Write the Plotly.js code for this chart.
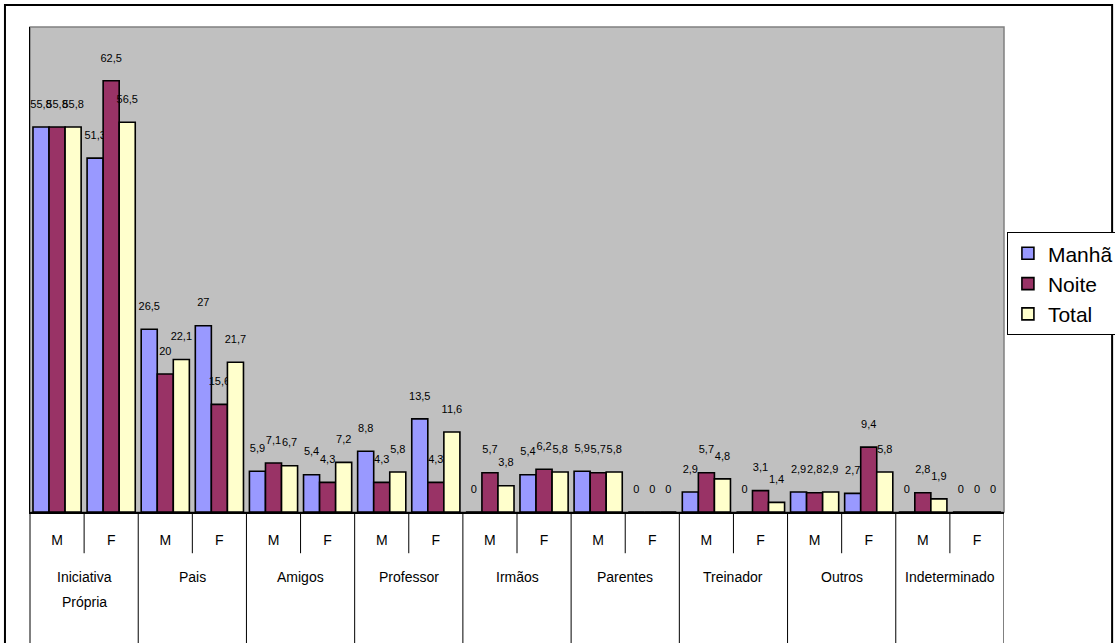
<!DOCTYPE html>
<html>
<head>
<meta charset="utf-8">
<script src="https://cdn.plot.ly/plotly-3.0.1.min.js"></script>
<style>
  html, body { margin: 0; padding: 0; background: #fff; }
  #chart { width: 1115px; height: 643px; }
</style>
</head>
<body>
<div id="chart"></div>
<script>
// Origem da prática: grupos e sexo
const groups = ["Iniciativa Própria", "Pais", "Amigos", "Professor", "Irmãos",
                "Parentes", "Treinador", "Outros", "Indeterminado"];
const sexes = ["M", "F"];

// Percentagens por turno (M e F alternados dentro de cada grupo)
const manha = [55.8, 51.3, 26.5, 27, 5.9, 5.4, 8.8, 13.5, 0, 5.4, 5.9, 0, 2.9, 0, 2.9, 2.7, 0, 0];
const noite = [55.8, 62.5, 20, 15.6, 7.1, 4.3, 4.3, 4.3, 5.7, 6.2, 5.7, 0, 5.7, 3.1, 2.8, 9.4, 2.8, 0];
const total = [55.8, 56.5, 22.1, 21.7, 6.7, 7.2, 5.8, 11.6, 3.8, 5.8, 5.8, 0, 4.8, 1.4, 2.9, 5.8, 1.9, 0];

const seriesNames = ["Manhã", "Noite", "Total"];
const seriesColors = ["#9999FF", "#993366", "#FFFFCC"];

const FONT = "Liberation Sans, Arial, sans-serif";

// one slot per group/sex pair
const slots = [];
const slotLabels = [];
groups.forEach((g, gi) => sexes.forEach((s, si) => {
  slots.push(gi * sexes.length + si);
  slotLabels.push(s);
}));

const fmt = v => String(v).replace(".", ",");

const traces = [manha, noite, total].map((vals, k) => ({
  type: "bar",
  name: seriesNames[k],
  x: slots,
  y: vals,
  text: vals.map(fmt),
  texttemplate: "%{text}<br>\u00a0",
  textposition: "outside",
  textangle: 0,
  constraintext: "none",
  cliponaxis: false,
  textfont: { family: FONT, size: 11, color: "#000" },
  marker: { color: seriesColors[k], line: { color: "#000", width: 1.6 } },
  hoverinfo: "skip"
}));

// separators under the axis: short between M/F, long between groups
const shapes = [];
const n = slots.length;
for (let b = 1; b < n; b++) {
  const groupEdge = b % sexes.length === 0;
  shapes.push({
    type: "line", xref: "x", yref: "paper",
    x0: b - 0.5, x1: b - 0.5,
    y0: 0, y1: groupEdge ? -0.32 : -0.085,
    line: { color: "#000", width: 1 }
  });
}
shapes.push({
  type: "line", xref: "x", yref: "paper",
  x0: n - 0.5, x1: n - 0.5, y0: 0, y1: -0.32,
  line: { color: "#000", width: 1 }
});
shapes.push({
  type: "line", xref: "paper", yref: "paper",
  x0: 0, x1: 0, y0: 0, y1: -0.32,
  line: { color: "#000", width: 1 }
});
// plot-area frame (top and right in grey)
shapes.push({
  type: "rect", xref: "paper", yref: "paper", layer: "below",
  x0: 0, x1: 1, y0: 0, y1: 1,
  line: { color: "#808080", width: 1.5 }
});
// outer chart frame
shapes.push({
  type: "rect", xref: "paper", yref: "paper",
  x0: -0.0257, x1: 1.111, y0: -0.35, y1: 1.0454,
  line: { color: "#000", width: 2 }
});

// group names beneath the M/F row
const annotations = [];
groups.forEach((g, gi) => {
  const lines = g.split(" ");
  const xc = gi * sexes.length + (sexes.length - 1) / 2;
  lines.forEach((ln, li) => {
    annotations.push({
      xref: "x", yref: "paper",
      x: xc, y: -0.134 - li * 0.0515,
      xanchor: "center", yanchor: "middle",
      text: ln, showarrow: false,
      font: { family: FONT, size: 14, color: "#000" }
    });
  });
});

const layout = {
  width: 1115,
  height: 643,
  margin: { l: 30, r: 111, t: 27, b: 131, autoexpand: false },
  paper_bgcolor: "#ffffff",
  plot_bgcolor: "#C0C0C0",
  barmode: "group",
  bargap: 0.11,
  bargroupgap: 0,
  showlegend: true,
  legend: {
    x: 1.003, y: 0.577, xanchor: "left", yanchor: "top",
    bgcolor: "#ffffff", bordercolor: "#000", borderwidth: 1,
    font: { family: FONT, size: 21, color: "#000" },
    itemwidth: 30,
    traceorder: "normal"
  },
  xaxis: {
    type: "linear",
    range: [-0.5, n - 0.5],
    tickmode: "array",
    tickvals: slots,
    ticktext: slotLabels,
    ticks: "",
    ticklabelstandoff: 15,
    tickfont: { family: FONT, size: 14, color: "#000" },
    showgrid: false,
    zeroline: false,
    showline: true,
    linecolor: "#000",
    linewidth: 1.5,
    fixedrange: true
  },
  yaxis: {
    range: [0, 70.3],
    showgrid: false,
    zeroline: false,
    showticklabels: false,
    ticks: "",
    showline: true,
    linecolor: "#000",
    linewidth: 1.5,
    fixedrange: true
  },
  shapes: shapes,
  annotations: annotations
};

Plotly.newPlot("chart", traces, layout, { displayModeBar: false, staticPlot: true });
</script>
</body>
</html>
